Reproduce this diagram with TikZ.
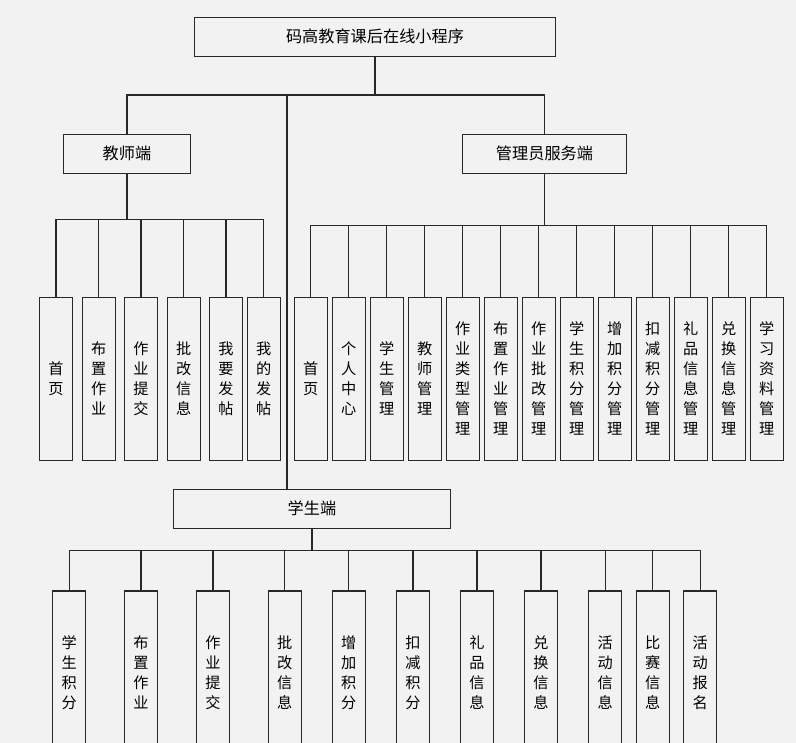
\documentclass[tikz,border=0pt]{standalone}
\usepackage{fontspec}
\setmainfont{Noto Sans CJK SC}
\usetikzlibrary{positioning,calc}
\definecolor{canvas}{RGB}{242,242,242}
\definecolor{ink}{RGB}{40,40,40}

\begin{document}
\begin{tikzpicture}[
  x=0.025cm,y=-0.025cm,
  head/.style={draw=ink,line width=0.7pt,minimum height=0.975cm,inner sep=0pt,
    font=\fontsize{11.5pt}{14pt}\selectfont},
  leaf/.style={draw=ink,line width=0.8pt,minimum width=0.825cm,minimum height=4.075cm,
    inner sep=0pt,align=center,font=\fontsize{10.8pt}{14.2pt}\selectfont},
  link/.style={draw=ink,line width=0.9pt}
]
\fill[canvas] (0,0) rectangle (796,743);
\clip (0,0) rectangle (796,743);
% top levels
\node[head,minimum width=9cm] (root) at (375,36.5) {码高教育课后在线小程序};
\node[head,minimum width=3.15cm] (teacher) at (127,153.5) {教师端};
\node[head,minimum width=4.075cm] (admin) at (544.5,153.5) {管理员服务端};
\node[head,minimum width=6.9cm] (student) at (312,508.5) {学生端};
% teacher leaves
\foreach \x/\txt [count=\i] in {56/{首\\页},98.7/{布\\置\\作\\业},141/{作\\业\\提\\交},
    183.7/{批\\改\\信\\息},226/{我\\要\\发\\帖},263.7/{我\\的\\发\\帖}}
  \node[leaf] (t\i) at (\x,378.7) {\txt};
% admin leaves
\foreach \txt [count=\i] in {{首\\页},{个\\人\\中\\心},{学\\生\\管\\理},{教\\师\\管\\理},
    {作\\业\\类\\型\\管\\理},{布\\置\\作\\业\\管\\理},{作\\业\\批\\改\\管\\理},
    {学\\生\\积\\分\\管\\理},{增\\加\\积\\分\\管\\理},{扣\\减\\积\\分\\管\\理},
    {礼\\品\\信\\息\\管\\理},{兑\\换\\信\\息\\管\\理},{学\\习\\资\\料\\管\\理}}
  \node[leaf] (a\i) at ({310.8+38*(\i-1)},378.8) {\txt};
% student leaves
\foreach \x/\txt [count=\i] in {69.3/{学\\生\\积\\分},141/{布\\置\\作\\业},213/{作\\业\\提\\交},
    284.8/{批\\改\\信\\息},348.8/{增\\加\\积\\分},413/{扣\\减\\积\\分},477/{礼\\品\\信\\息},
    541/{兑\\换\\信\\息},605.3/{活\\动\\信\\息},652.8/{比\\赛\\信\\息},700.2/{活\\动\\报\\名}}
  \node[leaf] (s\i) at (\x,672.5) {\txt};
% connectors
\coordinate (rbus) at (375,95);
\coordinate (tbus) at (127,219.3);
\coordinate (abus) at (544.5,225.7);
\coordinate (sbus) at (312,550.7);
\path (student.north) ++(-25,0) coordinate (sjoin);
\draw[link] (root.south) -- (rbus);
\draw[link] (teacher.north) |- (rbus);
\draw[link] (admin.north) |- (rbus);
\draw[link] (sjoin) |- (rbus);
\draw[link] (teacher.south) -- (tbus);
\foreach \i in {1,...,6} \draw[link] (t\i.north) |- (tbus);
\draw[link] (admin.south) -- (abus);
\foreach \i in {1,...,13} \draw[link] (a\i.north) |- (abus);
\draw[link] (student.south) -- (sbus);
\foreach \i in {1,...,11} \draw[link] (s\i.north) |- (sbus);
\end{tikzpicture}
\end{document}
